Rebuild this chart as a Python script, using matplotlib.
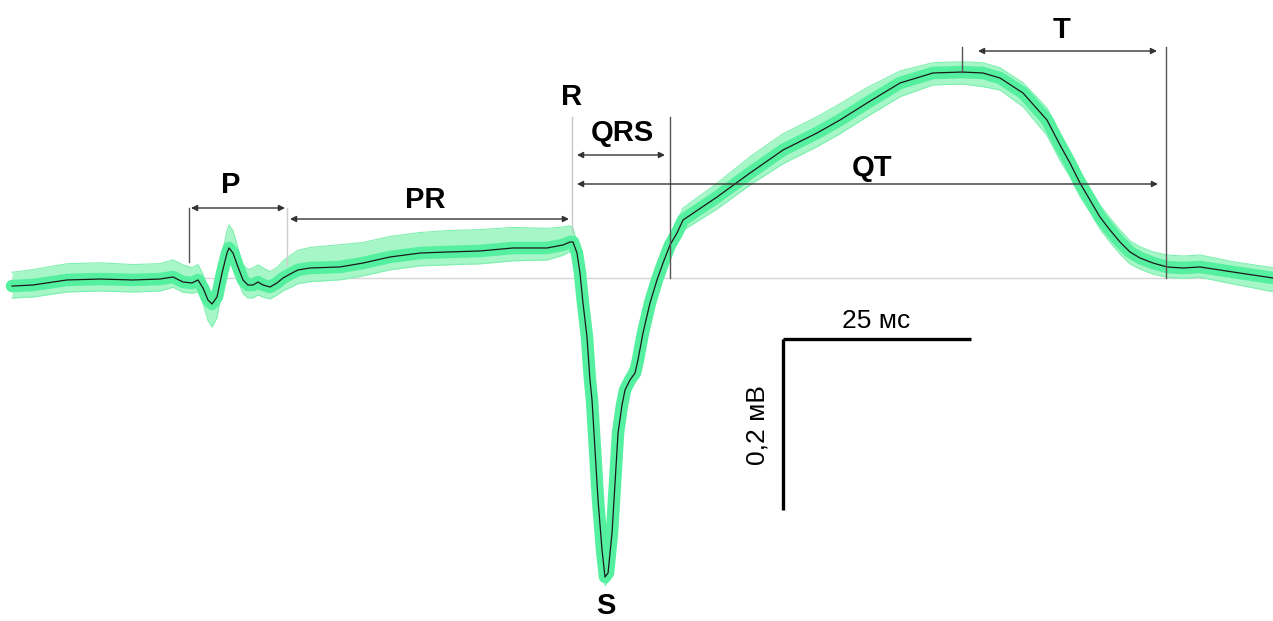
import numpy as np
import matplotlib
matplotlib.use("Agg")
import matplotlib.pyplot as plt

plt.rcParams['font.family'] = ['Liberation Sans', 'DejaVu Sans']

# averaged ECG complex: time (ms) and amplitude (mV)
t_ms = [0, 2.79, 7.31, 11.70, 16.09, 19.68, 21.41, 22.74, 23.94, 24.73,
        25.40, 26.06, 26.60, 27.26, 27.93, 28.59, 28.86, 29.39, 30.05, 30.72,
        31.38, 32.05, 32.71, 33.38, 34.31, 35.24, 36.04, 37.23, 38.03, 39.63,
        43.62, 46.68, 50.27, 54.26, 57.85, 62.23, 66.62, 71.14, 73.27, 74.20,
        74.60, 75.13, 75.53, 75.93, 76.46, 76.86, 77.13, 77.53, 77.93, 78.46,
        78.86, 79.26, 79.79, 80.19, 80.59, 81.12, 81.52, 82.18, 82.85, 83.24,
        83.91, 84.84, 85.77, 86.57, 87.50, 88.43, 89.23, 93.75, 98.14, 102.53,
        107.05, 110.11, 113.70, 118.09, 122.47, 126.33, 129.12, 131.38, 134.44, 137.63,
        139.36, 140.69, 142.02, 143.35, 144.68, 146.01, 147.34, 148.67, 150.00, 151.73,
        153.59, 155.72, 157.98, 162.37, 167.69]
mean_mv = [-0.0094, -0.0082, -0.0023, -0.0012, -0.0023, -0.0012, 0.0012, -0.0047, -0.0058, -0.0023,
           -0.0117, -0.0257, -0.0304, -0.0222, 0.0058, 0.0292, 0.0351, 0.0292, 0.0129, -0.0023,
           -0.0082, -0.0082, -0.0047, -0.0082, -0.0105, -0.0058, 0.0, 0.0058, 0.0094, 0.0117,
           0.0129, 0.0175, 0.0246, 0.0292, 0.0304, 0.0316, 0.0351, 0.0351, 0.0386, 0.0421,
           0.0421, 0.0292, 0.0058, -0.0292, -0.0690, -0.1193, -0.1427, -0.2012, -0.2596, -0.3181,
           -0.3497, -0.3450, -0.2982, -0.2398, -0.1813, -0.1485, -0.1310, -0.1193, -0.1111, -0.0959,
           -0.0643, -0.0292, -0.0023, 0.0175, 0.0386, 0.0526, 0.0678, 0.0947, 0.1228, 0.1497,
           0.1696, 0.1848, 0.2047, 0.2281, 0.2398, 0.2409, 0.2398, 0.2339, 0.2164, 0.1848,
           0.1556, 0.1345, 0.1111, 0.0912, 0.0713, 0.0561, 0.0421, 0.0304, 0.0234, 0.0175,
           0.0129, 0.0117, 0.0129, 0.0070, 0.0]
# spread of the individual beats above / below the mean (mV)
spread_up = [0.016, 0.018, 0.019, 0.019, 0.018, 0.018, 0.020, 0.020, 0.018, 0.018,
             0.016, 0.014, 0.014, 0.016, 0.022, 0.026, 0.027, 0.026, 0.022, 0.018,
             0.018, 0.020, 0.020, 0.020, 0.018, 0.018, 0.020, 0.022, 0.023, 0.024,
             0.026, 0.024, 0.024, 0.024, 0.025, 0.025, 0.024, 0.023, 0.021, 0.019,
             0.016, 0.012, 0.008, 0.007, 0.006, 0.006, 0.006, 0.006, 0.006, 0.006,
             0.006, 0.006, 0.006, 0.006, 0.007, 0.010, 0.014, 0.014, 0.013, 0.012,
             0.010, 0.010, 0.011, 0.012, 0.013, 0.014, 0.014, 0.016, 0.019, 0.019,
             0.019, 0.019, 0.018, 0.014, 0.012, 0.012, 0.012, 0.012, 0.012, 0.014,
             0.014, 0.014, 0.014, 0.014, 0.014, 0.014, 0.014, 0.013, 0.013, 0.013,
             0.014, 0.014, 0.014, 0.012, 0.012]
spread_dn = [0.014, 0.014, 0.014, 0.014, 0.014, 0.014, 0.012, 0.012, 0.012, 0.014,
             0.018, 0.024, 0.027, 0.024, 0.018, 0.016, 0.016, 0.016, 0.016, 0.016,
             0.015, 0.015, 0.015, 0.014, 0.014, 0.014, 0.015, 0.016, 0.016, 0.016,
             0.015, 0.015, 0.015, 0.015, 0.015, 0.015, 0.015, 0.014, 0.012, 0.011,
             0.010, 0.009, 0.008, 0.007, 0.006, 0.006, 0.006, 0.006, 0.006, 0.007,
             0.010, 0.010, 0.006, 0.006, 0.007, 0.008, 0.008, 0.009, 0.009, 0.009,
             0.009, 0.010, 0.010, 0.011, 0.012, 0.012, 0.012, 0.014, 0.014, 0.016,
             0.016, 0.016, 0.016, 0.016, 0.014, 0.014, 0.016, 0.014, 0.016, 0.018,
             0.018, 0.016, 0.016, 0.014, 0.014, 0.014, 0.014, 0.014, 0.013, 0.013,
             0.012, 0.012, 0.012, 0.014, 0.016]

wave_labels = ["P", "PR", "R", "QRS", "QT", "T", "S"]
scale_x_label = "25 мс"
scale_y_label = "0,2 мВ"
scale_ms = 25
scale_mv = 0.2

# pixel -> data mapping (layout helper)
X0, PXMS, Y0, PXMV = 12, 7.52, 278, 855
W, H = 1273, 621


def px(x, y):
    return ((x - X0) / PXMS, (Y0 - y) / PXMV)


fig = plt.figure(figsize=(W / 100, H / 100), dpi=100)
ax = fig.add_axes([0, 0, 1, 1])
ax.set_xlim(px(0, 0)[0], px(W, 0)[0])
ax.set_ylim(px(0, H)[1], px(0, 0)[1])
ax.axis('off')

t = np.array(t_ms)
m = np.array(mean_mv)
up = m + np.array(spread_up)
dn = m - np.array(spread_dn)

# baseline
ax.plot([px(12, 0)[0], px(1273, 0)[0]], [0, 0], color='#d6d6d6', lw=1.0, zorder=1)

# beats envelope
ax.fill_between(t, dn, up, color='#a6f6c8', lw=0, zorder=2)
ax.plot(t, up, color='#7ff0b0', lw=0.8, zorder=2)
ax.plot(t, dn, color='#7ff0b0', lw=0.8, zorder=2)
ax.plot(t, m, color='#55f09f', lw=9, solid_capstyle='round', solid_joinstyle='round', zorder=3)
ax.plot(t, m, color='#1a1a1a', lw=0.9, zorder=4)


def vline(x, y1, y2, color):
    a = px(x, y1)
    b = px(x, y2)
    ax.plot([a[0], b[0]], [a[1], b[1]], color=color, lw=1.0, zorder=5)


def arrow(x1, x2, y):
    a = px(x1, y)
    b = px(x2, y)
    ax.annotate('', xy=b, xytext=a,
                arrowprops=dict(arrowstyle='<|-|>', color='#333333', lw=1.0,
                                mutation_scale=9, shrinkA=0, shrinkB=0), zorder=6)


vline(189, 208, 262, '#555555')
vline(287, 208, 265, '#cccccc')
vline(572, 117, 232, '#c8c8c8')
vline(670, 117, 278, '#555555')
vline(962, 47, 72, '#555555')
vline(1166, 47, 278, '#555555')

arrow(191, 285, 208)
arrow(290, 569, 219)
arrow(577, 665, 155)
arrow(577, 1158, 184)
arrow(978, 1157, 51)

label_pos = [(231, 185), (425, 200), (572, 97), (622, 133), (872, 168), (1062, 30), (606, 606)]
for lab, (x, y) in zip(wave_labels, label_pos):
    ax.text(*px(x, y), lab, fontsize=21, fontweight='bold', ha='center', va='center',
            color='black', zorder=7)

# calibration bars
sx0, sy0 = px(783, 339)
ax.plot([sx0, sx0 + scale_ms], [sy0, sy0], color='black', lw=2.4, solid_capstyle='butt', zorder=6)
ax.plot([sx0, sx0], [sy0, sy0 - scale_mv], color='black', lw=2.4, solid_capstyle='butt', zorder=6)
ax.text(*px(876, 321), scale_x_label, fontsize=19, ha='center', va='center', zorder=7)
ax.text(*px(757, 425), scale_y_label, fontsize=19, ha='center', va='center', rotation=90, zorder=7)

fig.savefig('out.png', dpi=100)
